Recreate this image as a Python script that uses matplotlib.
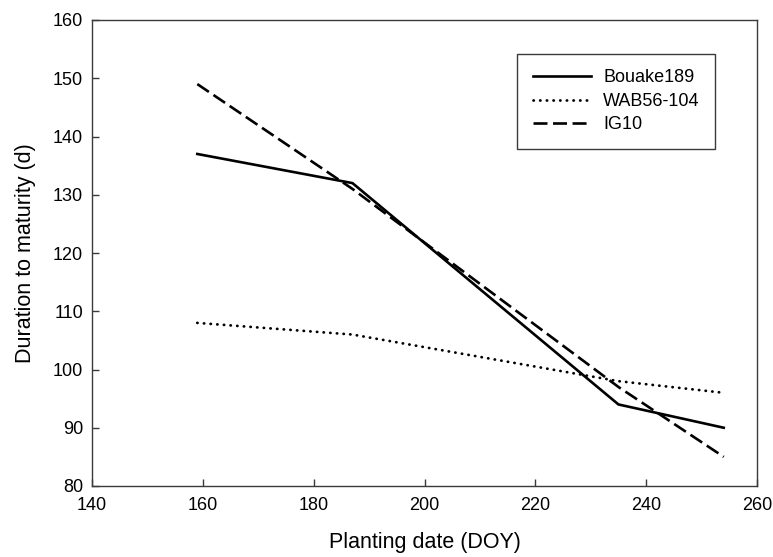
import matplotlib.pyplot as plt

plt.rcParams['font.family'] = ['Liberation Sans', 'DejaVu Sans']

# planting dates (day of year) and duration to maturity (days)
planting_doy = [159, 187, 235, 254]
bouake189 = [137, 132, 94, 90]
wab56_104 = [108, 106, 98, 96]
ig10 = [149, 131, 97, 85]

x_ticks = [140, 160, 180, 200, 220, 240, 260]
y_ticks = [80, 90, 100, 110, 120, 130, 140, 150, 160]

spine_col = '#3a3a3a'

fig = plt.figure(figsize=(7.73, 5.57), dpi=100)
ax = fig.add_axes([92/773, 71/557, 665/773, 466/557])

ax.plot(planting_doy, bouake189, color='black', lw=1.9, label='Bouake189')
ax.plot(planting_doy, wab56_104, color='black', lw=2.0, linestyle=(0, (0.1, 2.3)),
        dash_capstyle='round', label='WAB56-104')
ax.plot(planting_doy, ig10, color='black', lw=1.9, linestyle=(0, (5.3, 2.1)),
        label='IG10')

ax.set_xlim(140, 260)
ax.set_ylim(80, 160)
ax.set_xticks(x_ticks)
ax.set_yticks(y_ticks)

for s in ax.spines.values():
    s.set_color(spine_col)
    s.set_linewidth(1.0)

ax.tick_params(axis='both', direction='in', length=5, width=1.0, color=spine_col,
               labelsize=13, top=False, right=False)
ax.tick_params(axis='x', pad=8)
ax.tick_params(axis='y', pad=6.5)

ax.set_xlabel('Planting date (DOY)', fontsize=15.5, labelpad=13)
ax.set_ylabel('Duration to maturity (d)', fontsize=15.5, labelpad=12)

leg = ax.legend(loc='upper right', bbox_to_anchor=(0.937, 0.927), fontsize=13,
                frameon=True, fancybox=False, framealpha=1, edgecolor=spine_col,
                handlelength=3.2, handletextpad=0.7, labelspacing=0.36,
                borderpad=0.85, borderaxespad=0)
leg.get_frame().set_linewidth(1.0)

plt.savefig('out.png', dpi=100)
plt.close()
